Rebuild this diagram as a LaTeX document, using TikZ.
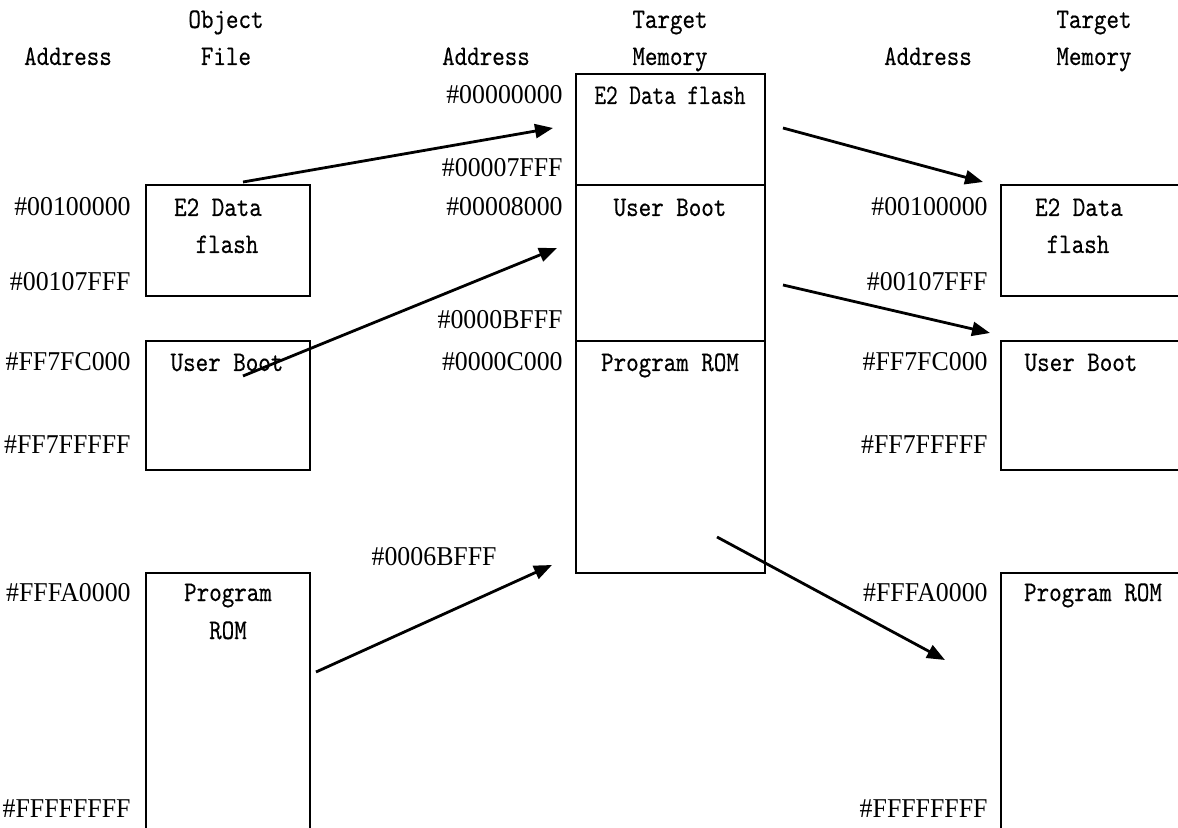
\documentclass[tikz,border=0pt]{standalone}
\usepackage{fontspec}
\setmainfont{Liberation Serif}
\newfontfamily\lblfont{lmmono10-regular.otf}[FakeStretch=0.84,FakeBold=0.3]
\newfontfamily\narrowfont{lmmono10-regular.otf}[FakeStretch=0.78,FakeBold=0.3]
\usetikzlibrary{arrows.meta}
\begin{document}
\begin{tikzpicture}[x=0.5pt,y=-0.5pt,
  box/.style={draw,line width=1.4pt,inner sep=0pt,minimum width=#1},
  box/.default=82pt,
  addr/.style={anchor=base east,inner sep=0pt,font=\fontsize{13.6}{15}\selectfont\addfontfeatures{FakeStretch=0.95}},
  lbl/.style={anchor=base,inner sep=0pt,font=\fontsize{14.2}{16}\lblfont},
  narrow/.style={font=\fontsize{14.2}{16}\narrowfont},
  arr/.style={line width=1.4pt,-{Triangle[length=9pt,width=7pt]}}]
\clip (0,0) rectangle (1178,828);
% headers
\node[lbl] (h1) at (68,65) {Address};
\node[lbl] (h2) at (226,28) {Object};
\node[lbl] (h3) at (226,65) {File};
\node[lbl] (h4) at (486,65) {Address};
\node[lbl] (h5) at (670,28) {Target};
\node[lbl] (h6) at (670,65) {Memory};
\node[lbl] (h7) at (928,65) {Address};
\node[lbl] (h8) at (1094,28) {Target};
\node[lbl] (h9) at (1094,65) {Memory};
% left boxes
\node[box,minimum height=55.5pt] (L1) at (228,240.5) {};
\node[box,minimum height=64.5pt] (L2) at (228,405.5) {};
\node[box,minimum height=170pt] (L3) at (228,743) {};
% middle boxes
\node[box=94.5pt,minimum height=55.5pt] (M1) at (670.5,129.5) {};
\node[box=94.5pt,minimum height=78pt] (M2) at (670.5,263) {};
\node[box=94.5pt,minimum height=116pt] (M3) at (670.5,457) {};
% right boxes
\node[box=110pt,minimum height=55.5pt] (R1) at (1111,240.5) {};
\node[box=110pt,minimum height=64.5pt] (R2) at (1111,405.5) {};
\node[box=110pt,minimum height=170pt] (R3) at (1111,743) {};
% box texts
\node[lbl] (t1) at (218,216) {E2 Data};
\node[lbl] (t2) at (227,253) {flash};
\node[lbl] (t3) at (227,371) {User Boot};
\node[lbl] (t4) at (228,601) {Program};
\node[lbl] (t5) at (228,639) {ROM};
\node[lbl,narrow] (t6) at (670,104) {E2 Data flash};
\node[lbl] (t7) at (670,216) {User Boot};
\node[lbl] (t8) at (670,371) {Program ROM};
\node[lbl] (t9) at (1079,216) {E2 Data};
\node[lbl] (t10) at (1078,253) {flash};
\node[lbl] (t11) at (1081,371) {User Boot};
\node[lbl] (t12) at (1093,601) {Program ROM};
% left addresses
\node[addr] (a1) at (131,216) {\#00100000};
\node[addr] (a2) at (131,291) {\#00107FFF};
\node[addr] (a3) at (131,371) {\#FF7FC000};
\node[addr] (a4) at (131,453) {\#FF7FFFFF};
\node[addr] (a5) at (131,601) {\#FFFA0000};
\node[addr] (a6) at (131,817) {\#FFFFFFFF};
% middle addresses
\node[addr] (b1) at (563,104) {\#00000000};
\node[addr] (b2) at (563,177) {\#00007FFF};
\node[addr] (b3) at (563,216) {\#00008000};
\node[addr] (b4) at (563,329) {\#0000BFFF};
\node[addr] (b5) at (563,371) {\#0000C000};
\node[addr] (b6) at (497,565) {\#0006BFFF};
% right addresses
\node[addr] (c1) at (988,216) {\#00100000};
\node[addr] (c2) at (988,291) {\#00107FFF};
\node[addr] (c3) at (988,371) {\#FF7FC000};
\node[addr] (c4) at (988,453) {\#FF7FFFFF};
\node[addr] (c5) at (988,601) {\#FFFA0000};
\node[addr] (c6) at (988,817) {\#FFFFFFFF};
% arrows
\coordinate (p1) at (243,182); \coordinate (q1) at (553,128);
\coordinate (p2) at (243,376); \coordinate (q2) at (557,248);
\coordinate (p3) at (316,672); \coordinate (q3) at (552,565);
\coordinate (p4) at (783,128); \coordinate (q4) at (983,182);
\coordinate (p5) at (783,285); \coordinate (q5) at (990,333);
\coordinate (p6) at (717,537); \coordinate (q6) at (945,660);
\draw[arr] (p1) -- (q1);
\draw[arr] (p2) -- (q2);
\draw[arr] (p3) -- (q3);
\draw[arr] (p4) -- (q4);
\draw[arr] (p5) -- (q5);
\draw[arr] (p6) -- (q6);
\end{tikzpicture}
\end{document}
